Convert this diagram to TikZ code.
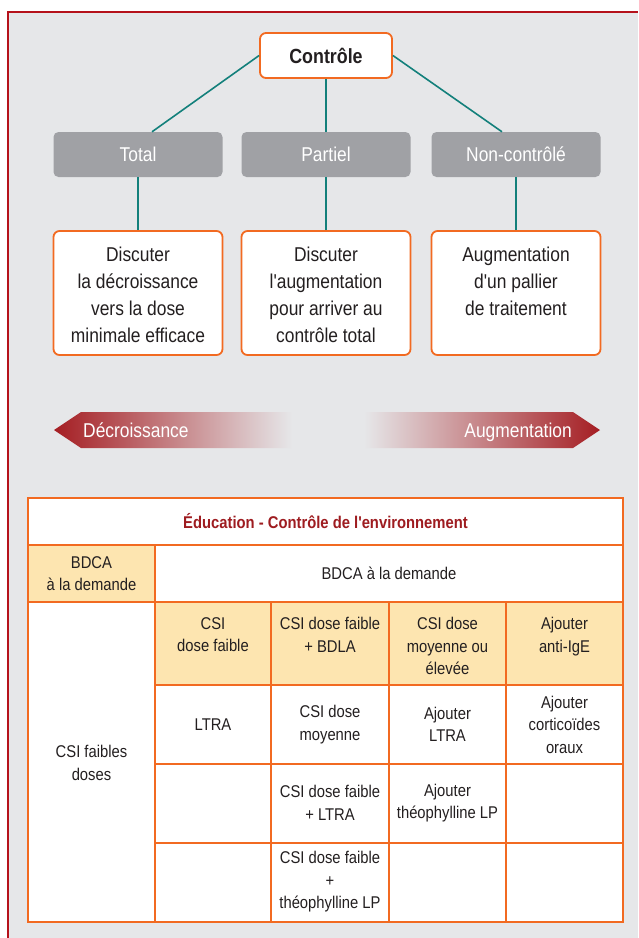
\documentclass[tikz,border=0pt]{standalone}
\usepackage{fontspec}
\setmainfont{Liberation Sans}[FakeStretch=0.87, Ligatures=TeXOff]
\definecolor{bg}{HTML}{E6E7E9}
\definecolor{framered}{HTML}{B5121B}
\definecolor{orangeline}{HTML}{F26A21}
\definecolor{boxgray}{HTML}{A0A1A5}
\definecolor{tealline}{HTML}{13807B}
\definecolor{cream}{HTML}{FDE5B0}
\definecolor{titlered}{HTML}{9E1C20}
\definecolor{txt}{HTML}{231F20}
\definecolor{arrowred}{HTML}{A51E23}
\definecolor{arrowmid}{HTML}{BF6A5C}
\begin{document}
\begin{tikzpicture}[x=1pt,y=-1pt,
  ctrl/.style={draw=orangeline, line width=1.8pt, fill=white, rounded corners=6pt,
    minimum width=132pt, minimum height=45pt, inner sep=0pt,
    font=\bfseries\fontsize{20.5}{24}\selectfont, text=txt},
  graybox/.style={fill=boxgray, rounded corners=5pt, minimum width=169pt,
    minimum height=45pt, inner sep=0pt, text=white, font=\fontsize{20}{24}\selectfont},
  obox/.style={draw=orangeline, line width=1.8pt, fill=white, rounded corners=6pt,
    minimum width=169pt, minimum height=124pt, inner sep=0pt},
  otext/.style={align=center, inner sep=0pt, anchor=north, text=txt,
    font=\fontsize{20}{27}\selectfont},
  link/.style={draw=tealline, line width=1.6pt},
  arrowtext/.style={text=white, inner sep=0pt, font=\fontsize{20}{24}\selectfont},
  cell/.style={align=center, inner sep=0pt, text=txt, font=\fontsize{17}{22.5}\selectfont},
  grid/.style={draw=orangeline, line width=2pt}
]
\useasboundingbox (0,0) rectangle (638,938);
\fill[white] (0,0) rectangle (638,938);
\fill[bg] (8,12) rectangle (638,938);
\draw[framered, line width=2.2pt] (8,938) -- (8,12) -- (638,12);

% top tree
\node[ctrl] (ctrl) at (326,55.5) {Contrôle};
\node[graybox] (total) at (138,154.5) {Total};
\node[graybox] (partiel) at (326,154.5) {Partiel};
\node[graybox] (nonc) at (516,154.5) {Non-contrôlé};

\draw[link] (ctrl.west) -- ([xshift=14pt]total.north);
\draw[link] (ctrl.south) -- (ctrl.south |- partiel.north);
\draw[link] (ctrl.east) -- ([xshift=-14pt]nonc.north);

\node[obox] (o1) at (138,293) {};
\node[obox] (o2) at (326,293) {};
\node[obox] (o3) at (516,293) {};
\draw[link] (total.south) -- (o1.north);
\draw[link] (partiel.south) -- (o2.north);
\draw[link] (nonc.south) -- (o3.north);

\node[otext] (t1) at (138,246.5) {Discuter\\la décroissance\\vers la dose\\minimale efficace};
\node[otext] (t2) at (326,246.5) {Discuter\\l'augmentation\\pour arriver au\\contrôle total};
\node[otext] (t3) at (516,246.5) {Augmentation\\d'un pallier\\de traitement};

% arrows
\shade[left color=arrowred, middle color=arrowmid, right color=bg]
  (54,430) -- (81,412) -- (292,412) -- (292,448) -- (81,448) -- cycle;
\shade[left color=bg, middle color=arrowmid, right color=arrowred]
  (600,430) -- (573,412) -- (364,412) -- (364,448) -- (573,448) -- cycle;
\node[arrowtext, anchor=base west] (decr) at (83,437) {Décroissance};
\node[arrowtext, anchor=base east] (augm) at (572,437) {Augmentation};

% table
\fill[white] (28,498) rectangle (623,922);
\fill[cream] (28,545) rectangle (155,602);
\fill[cream] (155,602) rectangle (623,685);
\draw[grid] (28,498) rectangle (623,922);
\draw[grid] (28,545) -- (623,545);
\draw[grid] (28,602) -- (623,602);
\draw[grid] (155,685) -- (623,685);
\draw[grid] (155,764) -- (623,764);
\draw[grid] (155,843) -- (623,843);
\draw[grid] (155,545) -- (155,922);
\draw[grid] (271,602) -- (271,922);
\draw[grid] (389,602) -- (389,922);
\draw[grid] (506,602) -- (506,922);

\node[cell, text=titlered, font=\bfseries\fontsize{17}{22.5}\selectfont] (title) at (325.5,521.5) {Éducation - Contrôle de l'environnement};
\node[cell] (bd1) at (91.5,573.5) {BDCA\\à la demande};
\node[cell] (bd2) at (389,573.5) {BDCA à la demande};
\node[cell] (csif) at (91.5,763) {CSI faibles\\doses};

\node[cell, anchor=north] (h1) at (213,617) {CSI\\dose faible};
\node[cell, anchor=north] (h2) at (330,617) {CSI dose faible\\+ BDLA};
\node[cell, anchor=north] (h3) at (447.5,617) {CSI dose\\moyenne ou\\élevée};
\node[cell, anchor=north] (h4) at (564.5,617) {Ajouter\\anti-IgE};

\node[cell] (r1) at (213,724.5) {LTRA};
\node[cell] (r2) at (330,724.5) {CSI dose\\moyenne};
\node[cell] (r3) at (447.5,724.5) {Ajouter\\LTRA};
\node[cell] (r4) at (564.5,724.5) {Ajouter\\corticoïdes\\oraux};

\node[cell] (s2) at (330,803) {CSI dose faible\\+ LTRA};
\node[cell] (s3) at (447.5,803) {Ajouter\\théophylline LP};

\node[cell] (u2) at (330,882) {CSI dose faible\\+\\théophylline LP};
\end{tikzpicture}
\end{document}
